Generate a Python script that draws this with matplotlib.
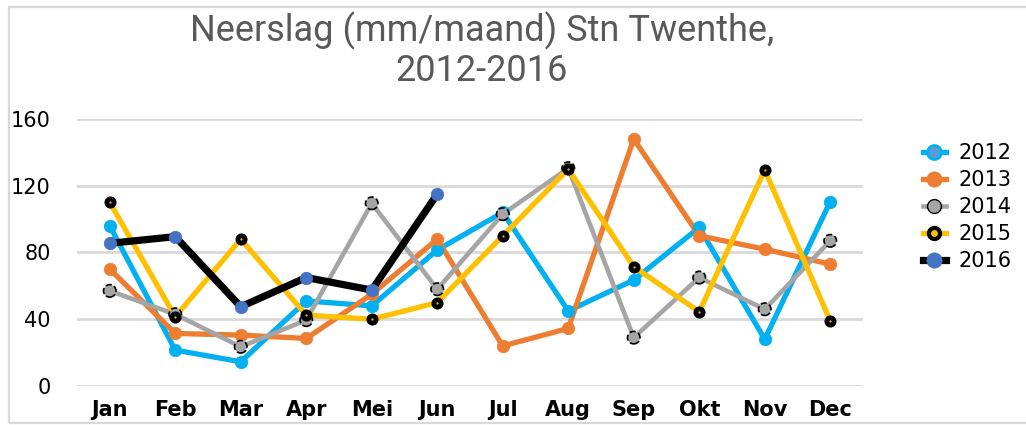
import matplotlib
matplotlib.use("Agg")
import matplotlib.pyplot as plt
from matplotlib.patches import Rectangle

# neerslag per maand, Stn Twenthe
maanden = ["Jan", "Feb", "Mar", "Apr", "Mei", "Jun", "Jul", "Aug", "Sep", "Okt", "Nov", "Dec"]
jaren = ["2012", "2013", "2014", "2015", "2016"]

r2012 = [96, 21.5, 14.5, 51, 48, 81.5, 104, 45, 63.5, 95, 28, 110.5]
r2013 = [70, 31.5, 30.5, 28.5, 55, 88, 24, 34.5, 148, 90, 82, 73]
r2014 = [57, 43, 23.5, 39.5, 109.5, 58, 103, 130.5, 29, 65, 46, 87]
r2015 = [110, 41.5, 88, 42.5, 40, 50, 90, 130, 71.5, 44.5, 129.5, 39]
r2016 = [85.5, 89.5, 47.5, 65, 57.5, 115]

reeksen = [r2012, r2013, r2014, r2015, r2016]

# stijl per jaar: lijnkleur, lijndikte, markervulling, markerrand, markergrootte, randdikte
stijl = {
    "2012": ("#00B0F0", 3.8, "#00B0F0", "#00B0F0", 9, 0.5),
    "2013": ("#ED7D31", 3.8, "#ED7D31", "#ED7D31", 9, 0.5),
    "2014": ("#A5A5A5", 3.3, "#A5A5A5", "black", 9, 1.0),
    "2015": ("#FFC000", 3.8, "#FFC000", "black", 5.2, 3.5),
    "2016": ("black", 5.2, "#4472C4", "#4472C4", 9, 0.5),
}
# legenda toont iets andere markers
leg_markers = {
    "2012": ("#5B9BD5", "#00B0F0", 10, 2.0),
    "2013": ("#ED7D31", "#ED7D31", 11, 0.5),
    "2014": ("#A5A5A5", "black", 10, 1.0),
    "2015": ("#FFC000", "black", 8, 3.0),
    "2016": ("#4472C4", "#4472C4", 11, 0.5),
}

W, H = 1026, 425
fig = plt.figure(figsize=(W / 100, H / 100), dpi=100)
ax = fig.add_axes([77 / W, 1 - 386 / H, (863 - 77) / W, (386 - 119) / H])

x = list(range(len(maanden)))
handles = []
for jaar, vals in zip(jaren, reeksen):
    kleur, lw, fc, ec, ms, mew = stijl[jaar]
    xs = x[:len(vals)]
    ax.plot(xs, vals, color=kleur, lw=lw, zorder=2, solid_capstyle="round")
    if jaar == "2014":
        ax.scatter(xs, vals, s=ms ** 2, c=fc, edgecolors=ec, linewidths=1.2,
                   linestyles="--", zorder=3)
    else:
        ax.plot(xs, vals, ls="none", marker="o", ms=ms, mfc=fc, mec=ec,
                mew=mew, zorder=3)
    lfc, lec, lms, lmew = leg_markers[jaar]
    h, = ax.plot([], [], color=kleur, lw=lw, marker="o", ms=lms, mfc=lfc,
                 mec=lec, mew=lmew)
    handles.append(h)

ax.set_xlim(-0.5, 11.5)
ax.set_ylim(0, 160)
ax.set_yticks([0, 40, 80, 120, 160])
ax.set_xticks(x)
ax.set_xticklabels(maanden, fontweight="bold")
ax.tick_params(axis="both", length=0, labelsize=15, colors="black")
ax.tick_params(axis="y", pad=19)
ax.tick_params(axis="x", pad=10)
ax.grid(axis="y", color="#D9D9D9", lw=2)
ax.set_axisbelow(True)
for s in ax.spines.values():
    s.set_visible(False)

fig.text(482 / W, 1 - 12 / H, "Neerslag (mm/maand) Stn Twenthe,\n2012-2016",
         ha="center", va="top", fontsize=26, color="#595959",
         family=["Roboto", "DejaVu Sans"], linespacing=1.08)

fig.legend(handles, jaren, loc="upper left", bbox_to_anchor=(923 / W, 1 - 143 / H),
           frameon=False, fontsize=15, handlelength=1.1, handletextpad=0.6,
           labelspacing=0.34, borderpad=0, borderaxespad=0)

fig.patches.append(Rectangle((9 / W, 2.5 / H), 1.0, 1 - 9.5 / H,
                             transform=fig.transFigure, fill=False,
                             edgecolor="#D9D9D9", lw=1.6))

fig.savefig("out.png", dpi=100)
